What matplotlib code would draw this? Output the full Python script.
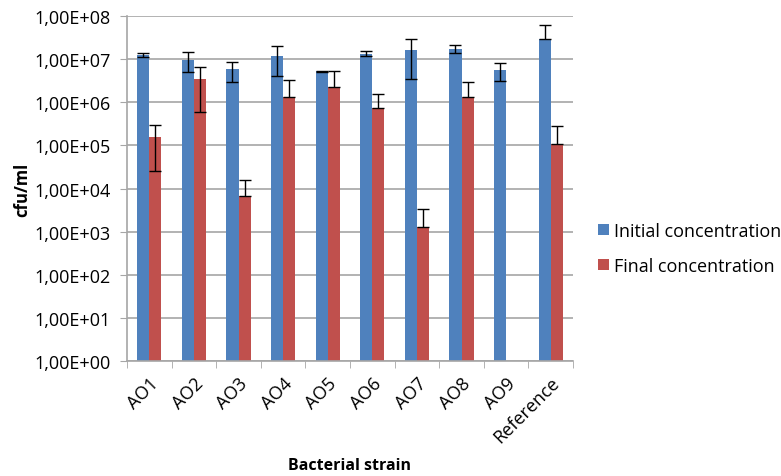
import numpy as np
import matplotlib
matplotlib.use("Agg")
import matplotlib.pyplot as plt
from matplotlib.ticker import FixedLocator, NullLocator, FuncFormatter

strains = ["AO1", "AO2", "AO3", "AO4", "AO5", "AO6", "AO7", "AO8", "AO9", "Reference"]

initial = [1.25e7, 9.8e6, 5.9e6, 1.2e7, 5.2e6, 1.35e7, 1.65e7, 1.75e7, 5.7e6, 2.9e7]
initial_err = [1.5e6, 4.8e6, 2.9e6, 8.0e6, 1.0e5, 1.6e6, 1.3e7, 3.5e6, 2.6e6, 3.2e7]

final = [1.6e5, 3.5e6, 6.6e3, 1.35e6, 2.2e6, 7.2e5, 1.3e3, 1.3e6, np.nan, 1.1e5]
final_err = [1.35e5, 2.9e6, 8.8e3, 1.85e6, 3.0e6, 8.7e5, 2.0e3, 1.7e6, np.nan, 1.7e5]

blue = "#4F81BD"
red = "#C0504D"

plt.rcParams["font.family"] = ["Open Sans", "DejaVu Sans"]

fig = plt.figure(figsize=(7.81, 4.77), dpi=100)
ax = fig.add_axes([127 / 781, 1 - 362 / 477, 446 / 781, 345 / 477])

x = np.arange(len(strains))
w = 0.27


def split_err(vals, errs):
    # Excel drops the lower bar when it would go below zero on a log axis
    lo, hi = [], []
    for v, e in zip(vals, errs):
        if np.isnan(v):
            lo.append(0)
            hi.append(0)
        elif e >= v:
            lo.append(0)
            hi.append(e)
        else:
            lo.append(e)
            hi.append(e)
    return [lo, hi]


ax.bar(x - w / 2, initial, w, color=blue, label="Initial concentration", zorder=2)
ax.bar(x + w / 2, final, w, color=red, label="Final concentration", zorder=2)
ax.errorbar(x - w / 2, initial, yerr=split_err(initial, initial_err), fmt="none",
            ecolor="black", elinewidth=1, capsize=4, capthick=1, zorder=3)
ax.errorbar(x + w / 2, final, yerr=split_err(final, final_err), fmt="none",
            ecolor="black", elinewidth=1, capsize=4, capthick=1, zorder=3)

ax.set_yscale("log")
ax.set_ylim(1, 1e8)
ax.set_xlim(-0.5, len(strains) - 0.5)
ax.yaxis.set_major_locator(FixedLocator([10.0 ** k for k in range(9)]))
ax.yaxis.set_minor_locator(NullLocator())
ax.yaxis.set_major_formatter(FuncFormatter(lambda v, p: "1,00E+%02d" % round(np.log10(v))))
ax.grid(axis="y", color="#A6A6A6", linewidth=1.2, zorder=0)
ax.set_axisbelow(True)

# category labels under bars, ticks between categories
ax.set_xticks(x)
ax.set_xticklabels(strains, rotation=45, ha="right", rotation_mode="anchor", fontsize=13)
ax.tick_params(axis="x", length=0, pad=9)
ax.set_xticks(np.arange(len(strains) + 1) - 0.5, minor=True)
ax.tick_params(axis="x", which="minor", length=5, color="#A6A6A6")
ax.tick_params(axis="y", length=5, color="#A6A6A6", labelsize=13, pad=7)

for s in ["top", "right"]:
    ax.spines[s].set_visible(False)
for s in ["left", "bottom"]:
    ax.spines[s].set_color("#A6A6A6")
    ax.spines[s].set_linewidth(1.2)

ax.set_ylabel("cfu/ml", fontweight="bold", fontsize=12, labelpad=2)
fig.text(350 / 781, 1 - 466 / 477, "Bacterial strain", fontweight="bold",
         fontsize=11.5, ha="center", va="center")

ax.legend(loc="center left", bbox_to_anchor=(598 / 781, 1 - 249.5 / 477),
          bbox_transform=fig.transFigure, frameon=False, fontsize=13,
          handlelength=0.6, handleheight=0.6, handletextpad=0.3, labelspacing=0.95,
          borderaxespad=0, borderpad=0)

fig.savefig("out.png", dpi=100)
